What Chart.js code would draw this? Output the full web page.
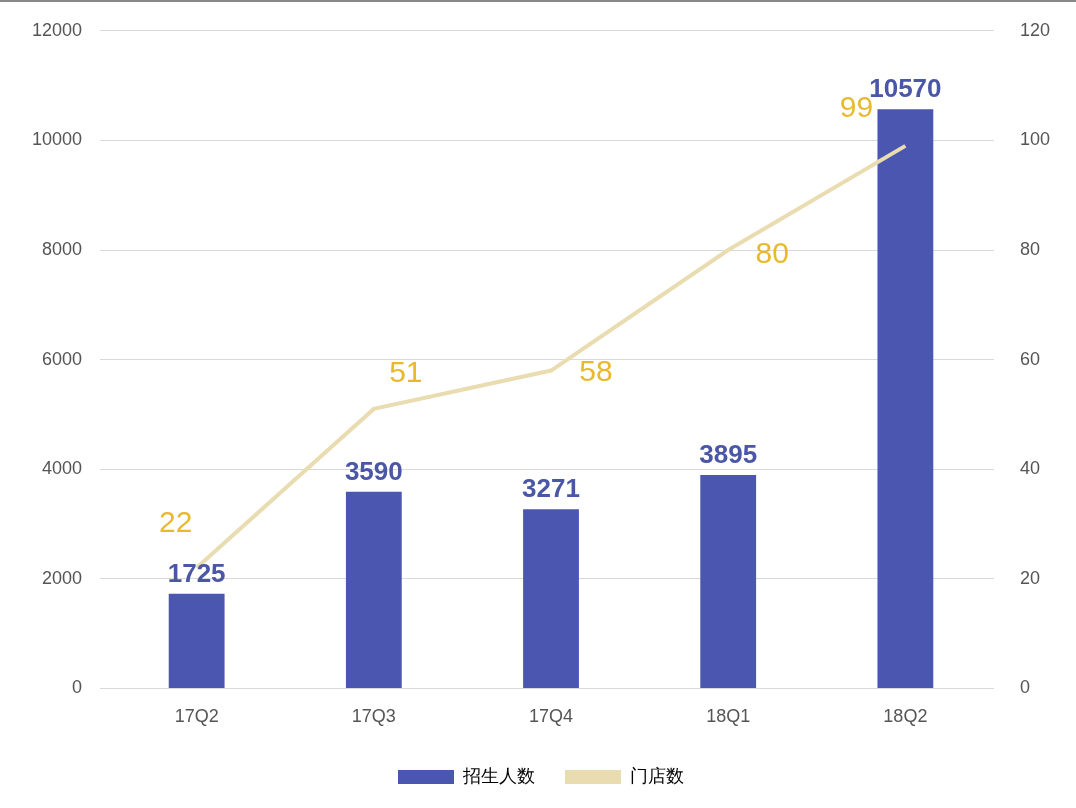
<!DOCTYPE html>
<html>
<head>
<meta charset="utf-8">
<script src="https://cdn.jsdelivr.net/npm/chart.js@4/dist/chart.umd.min.js"></script>
<style>
  body { margin: 0; background: #fff; }
  #wrap { width: 1076px; height: 808px; position: relative; border-top: 2px solid #888; box-sizing: border-box; }
</style>
</head>
<body>
<div id="wrap"><canvas id="c"></canvas></div>
<script>
const categories = ['17Q2', '17Q3', '17Q4', '18Q1', '18Q2'];
const students = [1725, 3590, 3271, 3895, 10570];
const stores = [22, 51, 58, 80, 99];

// label offsets for the line values (px)
const lineLabelOffset = [[-21, -44], [32, -35], [45, 2], [44, 5], [-49, -37]];

const labelPlugin = {
  id: 'labels',
  afterDatasetsDraw(chart) {
    const ctx = chart.ctx;
    ctx.save();
    ctx.textAlign = 'center';
    ctx.textBaseline = 'bottom';
    ctx.font = 'bold 26px "Liberation Sans", Arial, sans-serif';
    ctx.fillStyle = '#4a56a6';
    chart.getDatasetMeta(0).data.forEach((b, i) => {
      ctx.fillText(students[i], b.x, b.y - 6);
    });
    ctx.font = '30px "Liberation Sans", Arial, sans-serif';
    ctx.fillStyle = '#e8b92e';
    ctx.textBaseline = 'middle';
    chart.getDatasetMeta(1).data.forEach((p, i) => {
      const o = lineLabelOffset[i];
      ctx.fillText(stores[i], p.x + o[0], p.y + o[1]);
    });
    ctx.restore();
  }
};

Chart.defaults.font.family = '"Liberation Sans", Arial, sans-serif';
Chart.defaults.color = '#555';

new Chart(document.getElementById('c'), {
  type: 'bar',
  data: {
    labels: categories,
    datasets: [
      {
        label: '招生人数',
        data: students,
        backgroundColor: '#4a56b0',
        yAxisID: 'y',
        barPercentage: 0.63,
        categoryPercentage: 0.5,
        order: 2
      },
      {
        label: '门店数',
        type: 'line',
        data: stores,
        borderColor: '#e9dcb0',
        backgroundColor: '#e9dcb0',
        borderWidth: 4,
        pointRadius: 0,
        tension: 0,
        yAxisID: 'y1',
        order: 1
      }
    ]
  },
  options: {
    responsive: true,
    maintainAspectRatio: false,
    animation: false,
    layout: { padding: { left: 14, right: 8, top: 20, bottom: 12 } },
    plugins: {
      legend: {
        position: 'bottom',
        labels: {
          font: { size: 18 },
          color: '#555',
          boxWidth: 56,
          boxHeight: 14,
          padding: 30,
          generateLabels(chart) {
            return chart.data.datasets.map((d, i) => ({
              text: d.label,
              fillStyle: i === 0 ? '#4a56b0' : '#e9dcb0',
              strokeStyle: i === 0 ? '#4a56b0' : '#e9dcb0',
              lineWidth: 0,
              datasetIndex: i
            }));
          }
        }
      },
      tooltip: { enabled: false }
    },
    scales: {
      x: {
        grid: { display: false },
        border: { color: '#d9d9d9' },
        ticks: { font: { size: 18 }, color: '#555', padding: 10 }
      },
      y: {
        position: 'left',
        min: 0, max: 12000,
        ticks: { stepSize: 2000, font: { size: 18 }, color: '#555', padding: 18, callback: v => String(v) },
        grid: { color: '#d9d9d9' },
        border: { display: false }
      },
      y1: {
        position: 'right',
        min: 0, max: 120,
        ticks: { stepSize: 20, font: { size: 18 }, color: '#555', padding: 18 },
        grid: { display: false },
        border: { display: false }
      }
    }
  },
  plugins: [labelPlugin]
});
</script>
</body>
</html>
